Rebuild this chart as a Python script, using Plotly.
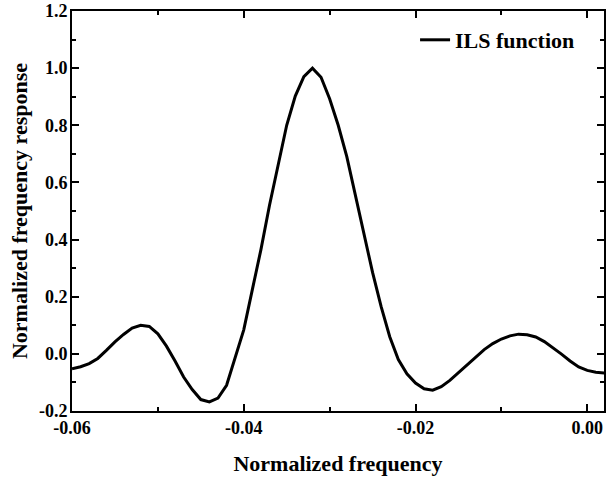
import plotly.graph_objects as go

# Normalized frequency samples (step 0.001)
freq = [-0.060, -0.059, -0.058, -0.057, -0.056, -0.055, -0.054, -0.053, -0.052, -0.051,
        -0.050, -0.049, -0.048, -0.047, -0.046, -0.045, -0.044, -0.043, -0.042, -0.041,
        -0.040, -0.039, -0.038, -0.037, -0.036, -0.035, -0.034, -0.033, -0.032, -0.031,
        -0.030, -0.029, -0.028, -0.027, -0.026, -0.025, -0.024, -0.023, -0.022, -0.021,
        -0.020, -0.019, -0.018, -0.017, -0.016, -0.015, -0.014, -0.013, -0.012, -0.011,
        -0.010, -0.009, -0.008, -0.007, -0.006, -0.005, -0.004, -0.003, -0.002, -0.001,
        0.000, 0.001, 0.002]

ils = [-0.052, -0.045, -0.034, -0.016, 0.012, 0.042, 0.068, 0.090, 0.100, 0.096,
       0.070, 0.027, -0.025, -0.081, -0.125, -0.160, -0.168, -0.155, -0.110, -0.010,
       0.084, 0.225, 0.365, 0.520, 0.660, 0.800, 0.902, 0.970, 1.000, 0.968,
       0.893, 0.800, 0.690, 0.555, 0.420, 0.285, 0.165, 0.060, -0.020, -0.070,
       -0.102, -0.122, -0.127, -0.115, -0.093, -0.066, -0.040, -0.012, 0.015, 0.036,
       0.052, 0.063, 0.069, 0.067, 0.059, 0.043, 0.022, -0.001, -0.025, -0.046,
       -0.058, -0.064, -0.067]

x_tickvals = [-0.06, -0.04, -0.02, 0.00]
x_ticktext = ["-0.06", "-0.04", "-0.02", "0.00"]
y_tickvals = [-0.2, 0.0, 0.2, 0.4, 0.6, 0.8, 1.0, 1.2]
y_ticktext = ["-0.2", "0.0", "0.2", "0.4", "0.6", "0.8", "1.0", "1.2"]

FONT = "Times New Roman, Liberation Serif, serif"

fig = go.Figure()
fig.add_trace(go.Scatter(
    x=freq, y=ils, mode="lines", name="<b>ILS function</b>",
    line=dict(color="black", width=3),
))

axis_common = dict(
    showline=True, linecolor="black", linewidth=2, mirror="allticks",
    ticks="inside", ticklen=7, tickwidth=2, tickcolor="black",
    showgrid=False, zeroline=False, automargin=False,
    ticklabeloverflow="allow",
    tickfont=dict(family=FONT, size=18, color="black", weight="bold"),
)

fig.update_xaxes(
    range=[-0.0600, 0.00195], tickvals=x_tickvals, ticktext=x_ticktext,
    ticklabelstandoff=-1,
    minor=dict(dtick=0.01, tick0=-0.06, ticks="inside", ticklen=4, tickwidth=2, tickcolor="black"),
    title=dict(text="<b>Normalized frequency</b>", font=dict(family=FONT, size=22, color="black"), standoff=19),
    **axis_common,
)
fig.update_yaxes(
    range=[-0.2, 1.2], tickvals=y_tickvals, ticktext=y_ticktext,
    ticklabelstandoff=-1,
    minor=dict(dtick=0.1, tick0=-0.2, ticks="inside", ticklen=4, tickwidth=2, tickcolor="black"),
    title=dict(text="<b>Normalized frequency response</b>", font=dict(family=FONT, size=22, color="black"), standoff=5),
    **axis_common,
)

fig.update_layout(
    width=606, height=481,
    margin=dict(l=72, r=2, t=11, b=70),
    paper_bgcolor="white", plot_bgcolor="white",
    showlegend=True,
    legend=dict(x=0.955, y=0.98, xanchor="right", yanchor="top",
                bgcolor="rgba(0,0,0,0)",
                font=dict(family=FONT, size=22, color="black")),
)

# remove the default 8 px page margin so the figure fills the window exactly
fig.write_html("out.html", config={"displayModeBar": False},
               post_script="document.body.style.margin='0px';")
